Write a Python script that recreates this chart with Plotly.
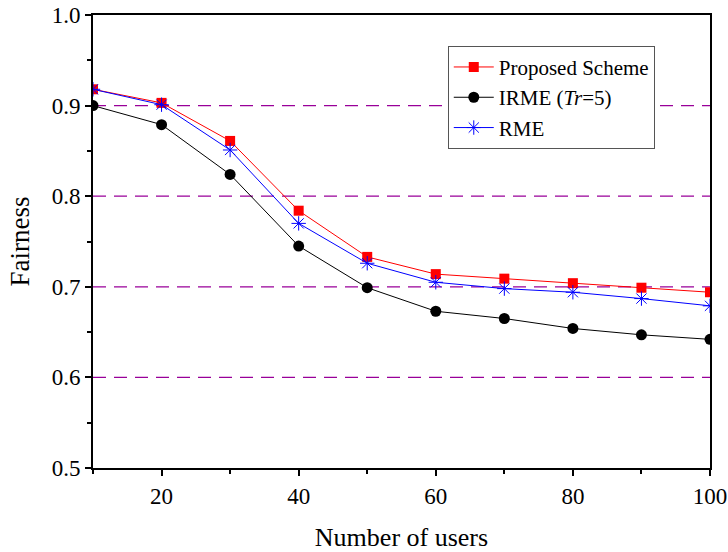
import plotly.graph_objects as go

users = [10, 20, 30, 40, 50, 60, 70, 80, 90, 100]
proposed = [0.918, 0.903, 0.861, 0.784, 0.733, 0.714, 0.709, 0.704, 0.699, 0.694]
irme = [0.900, 0.879, 0.824, 0.745, 0.699, 0.673, 0.665, 0.654, 0.647, 0.642]
rme = [0.918, 0.901, 0.851, 0.770, 0.726, 0.705, 0.698, 0.694, 0.687, 0.679]

FONT = "Liberation Serif, Times New Roman, serif"

fig = go.Figure()
fig.add_trace(go.Scatter(x=users, y=proposed, name="Proposed Scheme", mode="lines+markers",
                         line=dict(color="#ff0000", width=1),
                         marker=dict(symbol="square", size=10, color="#ff0000")))
fig.add_trace(go.Scatter(x=users, y=irme, name="IRME (<i>Tr</i>=5)", mode="lines+markers",
                         line=dict(color="#000000", width=1),
                         marker=dict(symbol="circle", size=11, color="#000000")))
fig.add_trace(go.Scatter(x=users, y=rme, name="RME", mode="lines+markers",
                         line=dict(color="#0000ff", width=1),
                         marker=dict(symbol="asterisk-open", size=12, color="#0000ff",
                                     line=dict(color="#0000ff", width=1))))

# dashed horizontal reference lines
for yv in [0.6, 0.7, 0.8, 0.9]:
    fig.add_shape(type="line", xref="paper", x0=0, x1=1, yref="y", y0=yv, y1=yv,
                  line=dict(color="#990099", width=1.2, dash="13px,8px"), layer="below")

fig.update_layout(
    width=728, height=552,
    margin=dict(l=93, r=18, t=15, b=84),
    paper_bgcolor="white", plot_bgcolor="white",
    font=dict(family=FONT, size=21, color="black"),
    showlegend=True,
    legend=dict(x=0.575, y=0.932, xanchor="left", yanchor="top",
                bgcolor="white", bordercolor="#555555", borderwidth=1,
                font=dict(family=FONT, size=21), itemwidth=40,
                tracegroupgap=0, traceorder="normal"),
    xaxis=dict(range=[10, 100], tickmode="array", tickvals=[20, 40, 60, 80, 100],
               automargin=False,
               showgrid=False, zeroline=False, showline=True, linecolor="black", linewidth=2,
               mirror=True, ticks="outside", ticklen=6, tickwidth=1.5, tickcolor="black",
               minor=dict(tickvals=[10, 30, 50, 70, 90], ticks="outside", ticklen=4,
                          tickwidth=1.5, tickcolor="black", showgrid=False),
               tickfont=dict(family=FONT, size=23, color="black"),
               title=dict(text="Number of users", font=dict(family=FONT, size=26), standoff=22)),
    yaxis=dict(range=[0.5, 1.0], tickmode="array", tickvals=[0.5, 0.6, 0.7, 0.8, 0.9, 1.0],
               ticktext=["0.5", "0.6", "0.7", "0.8", "0.9", "1.0"],
               automargin=False,
               showgrid=False, zeroline=False, showline=True, linecolor="black", linewidth=2,
               mirror=True, ticks="outside", ticklen=6, tickwidth=1.5, tickcolor="black",
               minor=dict(tickvals=[0.55, 0.65, 0.75, 0.85, 0.95], ticks="outside", ticklen=4,
                          tickwidth=1.5, tickcolor="black", showgrid=False),
               tickfont=dict(family=FONT, size=23, color="black"),
               title=dict(text="Fairness", font=dict(family=FONT, size=27), standoff=14)),
)

fig.write_html("out.html", config={"displayModeBar": False},
               post_script="document.body.style.margin='0';")
